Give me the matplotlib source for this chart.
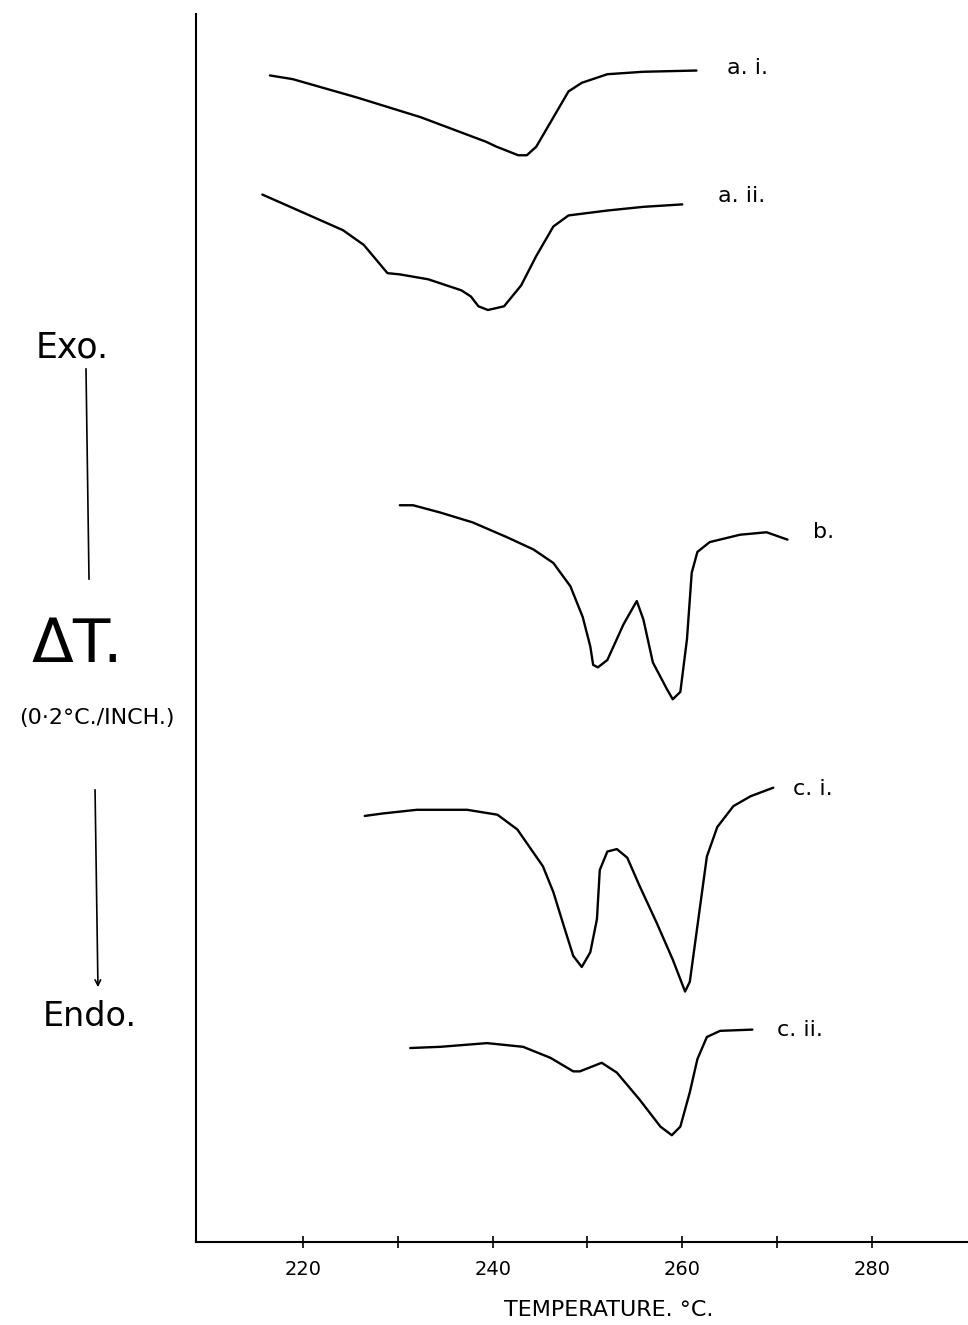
import matplotlib.pyplot as plt

# DTA traces: temperature (deg C) and pen deflection (arbitrary chart units)
temp_a1 = [216.5, 218.9, 225.7, 232.4, 239.3, 240.4, 242.7, 243.6, 244.6,
           248.0, 249.4, 252.1, 255.9, 261.5]
dt_a1 = [95.0, 94.7, 93.2, 91.6, 89.6, 89.2, 88.5, 88.5, 89.2,
         93.7, 94.4, 95.1, 95.3, 95.4]

temp_a2 = [215.7, 220.1, 224.2, 226.4, 228.9, 230.2, 233.2, 236.7, 237.7,
           238.5, 239.5, 241.2, 243.0, 244.6, 246.4, 248.0, 252.1, 255.9, 260.0]
dt_a2 = [85.3, 83.8, 82.4, 81.2, 78.9, 78.8, 78.4, 77.5, 77.0,
         76.2, 75.9, 76.2, 77.9, 80.3, 82.7, 83.6, 84.0, 84.3, 84.5]

temp_b = [230.2, 231.6, 234.5, 237.9, 241.5, 244.3, 246.4, 248.2, 249.5,
          250.3, 250.6, 251.1, 252.1, 253.8, 255.2, 255.9, 256.9, 258.4,
          259.0, 259.8, 260.5, 261.0, 261.6, 262.9, 266.1, 268.9, 271.1]
dt_b = [60.0, 60.0, 59.4, 58.6, 57.4, 56.4, 55.3, 53.4, 50.9,
        48.5, 47.0, 46.8, 47.4, 50.3, 52.2, 50.7, 47.2, 45.0,
        44.2, 44.8, 49.1, 54.5, 56.2, 57.0, 57.6, 57.8, 57.2]

temp_c1 = [226.5, 228.4, 232.0, 237.3, 240.5, 242.6, 245.3, 246.4, 247.4,
           248.5, 249.4, 250.3, 251.0, 251.3, 252.1, 253.1, 254.2, 255.5,
           257.3, 259.0, 260.3, 260.8, 261.7, 262.6, 263.7, 265.4, 267.2, 269.6]
dt_c1 = [34.7, 34.9, 35.2, 35.2, 34.8, 33.6, 30.6, 28.5, 26.0,
         23.3, 22.4, 23.6, 26.3, 30.3, 31.8, 32.0, 31.3, 29.0,
         26.0, 23.0, 20.4, 21.2, 26.3, 31.4, 33.8, 35.5, 36.3, 37.0]

temp_c2 = [231.3, 234.5, 239.4, 243.2, 246.1, 248.5, 249.2, 251.5, 253.1,
           255.5, 257.7, 258.9, 259.8, 260.8, 261.6, 262.6, 264.0, 267.4]
dt_c2 = [15.8, 15.9, 16.2, 15.9, 15.0, 13.9, 13.9, 14.6, 13.8,
         11.6, 9.4, 8.7, 9.4, 12.2, 14.9, 16.7, 17.2, 17.3]

curve_labels = ["a. i.", "a. ii.", "b.", "c. i.", "c. ii."]
label_temps = [264.7, 263.8, 273.8, 271.7, 270.0]
label_dts = [95.6, 85.2, 57.8, 36.9, 17.3]

major_ticks = [220, 240, 260, 280]
minor_ticks = [230, 250, 270]

fig = plt.figure(figsize=(9.68, 13.25), dpi=100)
ax = fig.add_axes([0.2025, 0.0626, 0.7975, 0.9268])

for t, d in [(temp_a1, dt_a1), (temp_a2, dt_a2), (temp_b, dt_b),
             (temp_c1, dt_c1), (temp_c2, dt_c2)]:
    ax.plot(t, d, color='black', lw=1.7, solid_joinstyle='round',
            solid_capstyle='round')

for lab, t, d in zip(curve_labels, label_temps, label_dts):
    ax.text(t, d, lab, fontsize=16, ha='left', va='center')

ax.set_xlim(208.7, 290.15)
ax.set_ylim(0, 100)
ax.spines['top'].set_visible(False)
ax.spines['right'].set_visible(False)
ax.spines['left'].set_linewidth(1.5)
ax.spines['bottom'].set_linewidth(1.5)
ax.set_yticks([])
ax.set_xticks(major_ticks)
ax.set_xticks(minor_ticks, minor=True)
ax.tick_params(axis='x', which='both', direction='inout', length=8,
               width=1.2, labelsize=14, pad=9)

ax.set_xlabel('TEMPERATURE. °C.', fontsize=16)
ax.xaxis.set_label_coords(0.534, -0.047)

# left-hand legend: exo / delta T / endo with arrow
fig.text(72 / 968, 1 - 348 / 1325, 'Exo.', fontsize=25, ha='center', va='center')
fig.add_artist(plt.Line2D([86 / 968, 89 / 968], [1 - 369 / 1325, 1 - 579 / 1325],
                          color='black', lw=1.2))
fig.text(77 / 968, 1 - 646 / 1325, 'ΔT.', fontsize=44, ha='center', va='center')
fig.text(97 / 968, 1 - 718 / 1325, '(0·2°C./INCH.)', fontsize=16,
         ha='center', va='center')
ax.annotate('', xy=(98 / 968, 1 - 990 / 1325), xytext=(95 / 968, 1 - 787 / 1325),
            xycoords='figure fraction', textcoords='figure fraction',
            arrowprops=dict(arrowstyle='->', color='black', lw=1.2))
fig.text(90 / 968, 1 - 1017 / 1325, 'Endo.', fontsize=24, ha='center', va='center')

plt.savefig('out.png', dpi=100)
